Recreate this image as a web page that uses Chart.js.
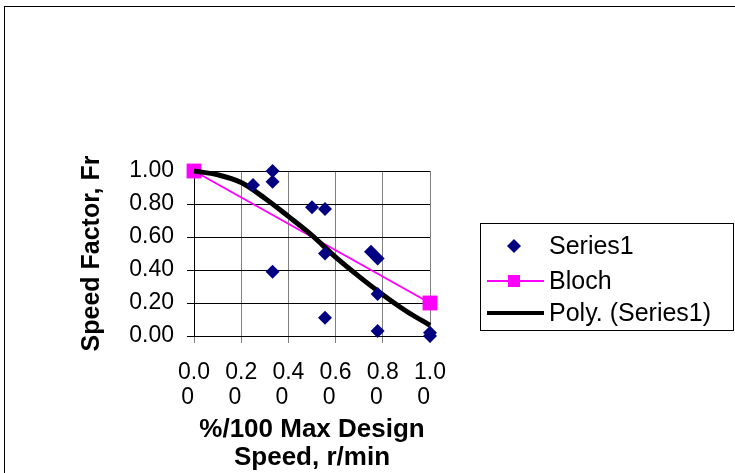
<!DOCTYPE html>
<html>
<head>
<meta charset="utf-8">
<script src="https://cdn.jsdelivr.net/npm/chart.js@4/dist/chart.umd.min.js"></script>
<style>
  html, body { margin: 0; padding: 0; background: #fff; }
  canvas { display: block; }
</style>
</head>
<body>
<canvas id="chart" width="735" height="473"></canvas>
<script>
// Measured speed factors against fraction of max design speed
const series1X = [0.333, 0.333, 0.25, 0.5, 0.555, 0.555, 0.333, 0.75, 0.778, 0.778, 0.555, 0.778, 1.0, 1.0];
const series1Y = [1.0, 0.935, 0.915, 0.78, 0.77, 0.50, 0.39, 0.51, 0.47, 0.255, 0.11, 0.03, 0.02, 0.0];

// Bloch reference line
const blochX = [0, 1.0];
const blochY = [1.0, 0.2];

// Polynomial trend of Series1, sampled along x
const polyX = [0, 0.1, 0.2, 0.3, 0.4, 0.5, 0.6, 0.7, 0.8, 0.9, 1.0];
const polyY = [1.0, 0.977, 0.93, 0.835, 0.725, 0.61, 0.478, 0.36, 0.25, 0.15, 0.065];

// Axis tick labels (x labels wrap onto two lines)
const xTickLabels = ["0.00", "0.20", "0.40", "0.60", "0.80", "1.00"];
const yTickLabels = ["0.00", "0.20", "0.40", "0.60", "0.80", "1.00"];

const seriesNames = ["Series1", "Bloch", "Poly. (Series1)"];

const toPoints = (xs, ys) => xs.map((x, i) => ({ x: x, y: ys[i] }));

const FONT = "'Liberation Sans', Arial, sans-serif";
Chart.defaults.font.family = FONT;
Chart.defaults.color = '#000';

// Outer frame of the chart object
const framePlugin = {
  id: 'frame',
  beforeDraw(chart) {
    const ctx = chart.ctx;
    ctx.save();
    ctx.fillStyle = '#fff';
    ctx.fillRect(0, 0, chart.width, chart.height);
    ctx.strokeStyle = '#000';
    ctx.lineWidth = 1;
    ctx.strokeRect(4.5, 6.5, chart.width + 20, chart.height + 20);
    ctx.restore();
  }
};

// Boxed legend to the right of the plot
const boxLegendPlugin = {
  id: 'boxLegend',
  afterDraw(chart) {
    const ctx = chart.ctx;
    const ds = chart.data.datasets;
    ctx.save();
    ctx.strokeStyle = '#000';
    ctx.lineWidth = 1;
    ctx.strokeRect(480.5, 223.5, 253, 107);
    const rows = [246, 281, 313];
    ctx.font = "25px " + FONT;
    ctx.textBaseline = 'middle';
    ctx.textAlign = 'left';
    ds.forEach((d, i) => {
      const y = rows[i];
      if (d.showLine) {
        ctx.strokeStyle = d.borderColor;
        ctx.lineWidth = d.legendLineWidth;
        ctx.beginPath();
        ctx.moveTo(487, y);
        ctx.lineTo(544, y);
        ctx.stroke();
      }
      if (d.pointRadius > 0) {
        ctx.fillStyle = d.pointBackgroundColor;
        if (d.pointStyle === 'rectRot') {
          ctx.beginPath();
          ctx.moveTo(514, y - 7);
          ctx.lineTo(521, y);
          ctx.lineTo(514, y + 7);
          ctx.lineTo(507, y);
          ctx.closePath();
          ctx.fill();
        } else {
          ctx.fillRect(508, y - 6, 12, 12);
        }
      }
      ctx.fillStyle = '#000';
      ctx.fillText(d.label, 549, y + 1);
    });
    ctx.restore();
  }
};

new Chart(document.getElementById('chart'), {
  type: 'scatter',
  data: {
    datasets: [
      {
        label: seriesNames[0],
        data: toPoints(series1X, series1Y),
        showLine: false,
        clip: false,
        pointStyle: 'rectRot',
        pointRadius: 7,
        pointBackgroundColor: '#000080',
        pointBorderColor: '#000080',
        pointBorderWidth: 0,
        order: 0
      },
      {
        label: seriesNames[1],
        data: toPoints(blochX, blochY),
        showLine: true,
        clip: false,
        borderColor: '#ff00ff',
        borderWidth: 2,
        legendLineWidth: 2,
        pointStyle: 'rect',
        pointRadius: 10.5,
        pointBackgroundColor: '#ff00ff',
        pointBorderColor: '#ff00ff',
        pointBorderWidth: 0,
        order: 2
      },
      {
        label: seriesNames[2],
        data: toPoints(polyX, polyY),
        showLine: true,
        clip: false,
        borderColor: '#000',
        borderWidth: 5,
        legendLineWidth: 4,
        cubicInterpolationMode: 'monotone',
        pointRadius: 0,
        pointBackgroundColor: '#000',
        order: 1
      }
    ]
  },
  options: {
    responsive: false,
    animation: false,
    devicePixelRatio: 1,
    layout: { padding: { left: 73, right: 305, top: 171, bottom: 0 } },
    plugins: {
      legend: { display: false },
      tooltip: { enabled: false }
    },
    scales: {
      x: {
        type: 'linear',
        min: 0,
        max: 1,
        afterFit(scale) { scale.height = 137; },
        ticks: {
          stepSize: 0.2,
          padding: 17,
          maxRotation: 0,
          autoSkip: false,
          font: { size: 23, lineHeight: 1.1 },
          callback: (v, i) => {
            const s = xTickLabels[i];
            return [s.slice(0, 3), s.slice(3) + '  '];
          }
        },
        grid: { color: '#808080', lineWidth: 1, tickLength: 7, tickColor: '#808080' },
        border: { color: '#000', width: 1 },
        title: {
          display: true,
          text: ['%/100 Max Design', 'Speed, r/min'],
          font: { size: 26, weight: 'bold', lineHeight: 1.08 },
          padding: { top: 0, bottom: 1 }
        }
      },
      y: {
        type: 'linear',
        min: 0,
        max: 1,
        afterFit(scale) { scale.width = 121; },
        ticks: {
          stepSize: 0.2,
          padding: 13,
          font: { size: 23 },
          callback: (v, i) => yTickLabels[i]
        },
        grid: { color: '#000', lineWidth: 1, tickLength: 7, tickColor: '#000' },
        border: { color: '#000', width: 1 },
        title: {
          display: true,
          text: 'Speed Factor, Fr',
          font: { size: 25, weight: 'bold', lineHeight: 1.2 },
          padding: { top: 4, bottom: 0 }
        }
      }
    }
  },
  plugins: [framePlugin, boxLegendPlugin]
});
</script>
</body>
</html>
